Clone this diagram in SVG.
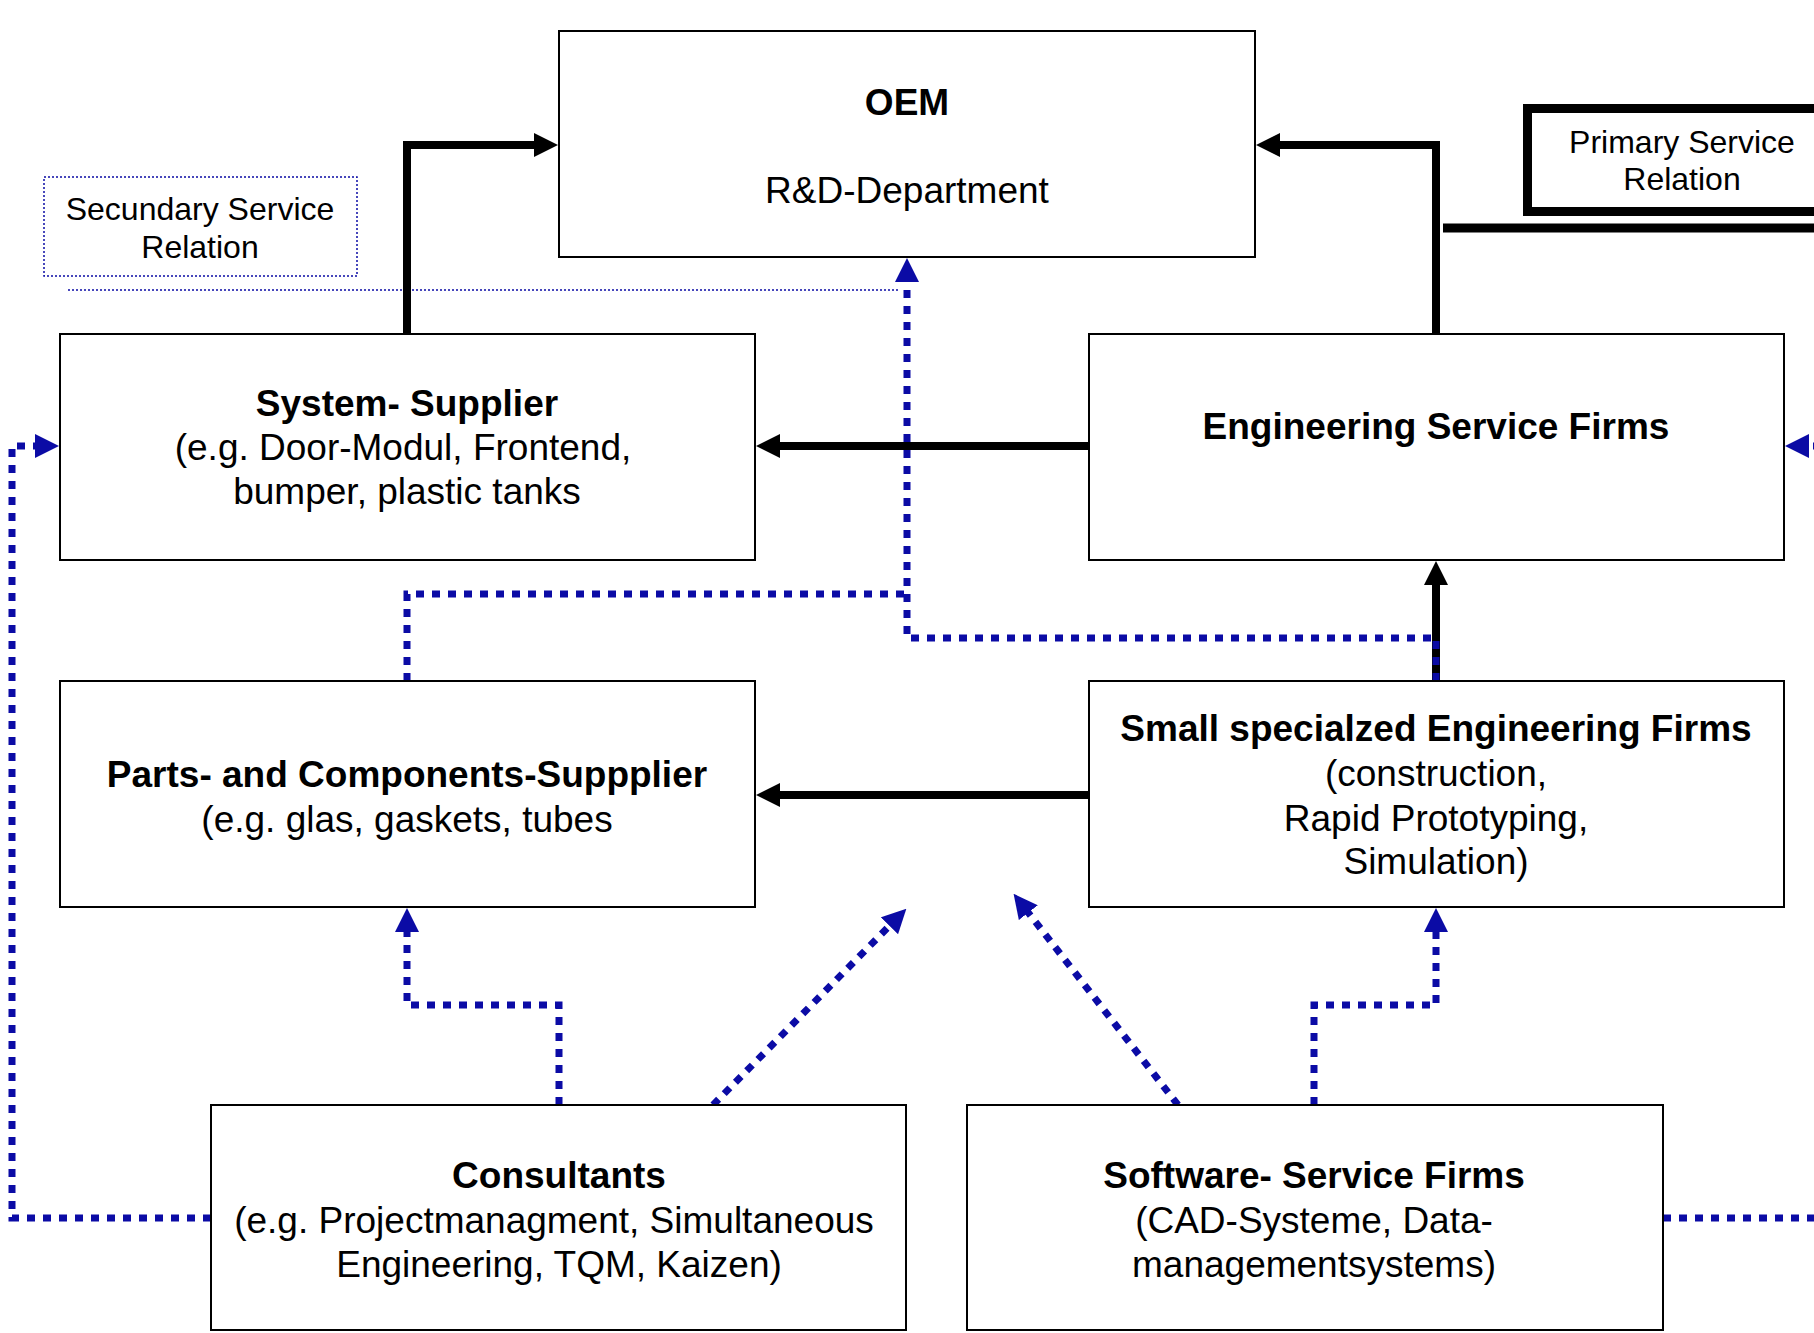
<svg xmlns="http://www.w3.org/2000/svg" width="1814" height="1333" viewBox="0 0 1814 1333">
<style>
.box{fill:#fff;stroke:#000;stroke-width:2}
.t{font-family:"Liberation Sans",Arial,sans-serif;font-size:37px;fill:#000;text-anchor:middle}
.b{font-weight:bold}
.lg{font-family:"Liberation Sans",Arial,sans-serif;font-size:32px;fill:#000;text-anchor:middle}
.k{fill:none;stroke:#000;stroke-width:8}
.d{fill:none;stroke:#0b0ba5;stroke-width:7;stroke-dasharray:8 8}
</style>
<defs>
<marker id="ak" markerUnits="userSpaceOnUse" viewBox="0 0 24 24" refX="1" refY="12" markerWidth="24" markerHeight="24" orient="auto"><path d="M0,0 L24,12 L0,24 z" fill="#000"/></marker>
<marker id="ab" markerUnits="userSpaceOnUse" viewBox="0 0 24 24" refX="1" refY="12" markerWidth="24" markerHeight="24" orient="auto"><path d="M0,0 L24,12 L0,24 z" fill="#0b0ba5"/></marker>
</defs>
<g id="legend-secondary">
<rect x="44" y="177" width="313" height="99" fill="none" stroke="#0b0ba5" stroke-width="1.5" stroke-dasharray="2 2"/>
<text class="lg" x="200" y="220">Secundary Service</text>
<text class="lg" x="200" y="258">Relation</text>
<line x1="68" y1="290" x2="900" y2="290" stroke="#0b0ba5" stroke-width="1.5" stroke-dasharray="2 2"/>
</g>
<g id="legend-primary">
<rect x="1527.5" y="108.5" width="320" height="103" fill="none" stroke="#000" stroke-width="9"/>
<text class="lg" x="1682" y="153">Primary Service</text>
<text class="lg" x="1682" y="190">Relation</text>
<line x1="1443" y1="228" x2="1814" y2="228" stroke="#000" stroke-width="9"/>
</g>
<g id="connectors">
<path class="k" d="M407,334 V145 H535" marker-end="url(#ak)"/>
<path class="k" d="M1436,334 V145 H1279" marker-end="url(#ak)"/>
<path class="k" d="M1089,446 H779" marker-end="url(#ak)"/>
<path class="k" d="M1436,681 V584" marker-end="url(#ak)"/>
<path class="k" d="M1089,795 H779" marker-end="url(#ak)"/>
<path class="d" d="M407,681 V594 H907"/>
<path class="d" d="M1436,681 V638 H907 V281" marker-end="url(#ab)"/>
<path class="d" d="M559,1105 V1005 H407 V931" marker-end="url(#ab)"/>
<path class="d" d="M713,1105 L890.2,925.1" marker-end="url(#ab)"/>
<path class="d" d="M1178,1105 L1027.7,911.9" marker-end="url(#ab)"/>
<path class="d" d="M1314,1105 V1005 H1436 V931" marker-end="url(#ab)"/>
<path class="d" d="M211,1218 H12 V446 H36" marker-end="url(#ab)"/>
<path class="d" d="M1663,1218 H1828 V446 H1808" marker-end="url(#ab)"/>
</g>
<g id="oem">
<rect class="box" x="559" y="31" width="696" height="226"/>
<text class="t b" x="907" y="115">OEM</text>
<text class="t" x="907" y="203">R&amp;D-Department</text>
</g>
<g id="system-supplier">
<rect class="box" x="60" y="334" width="695" height="226"/>
<text class="t b" x="407" y="416">System- Supplier</text>
<text class="t" x="403" y="460">(e.g. Door-Modul, Frontend,</text>
<text class="t" x="407" y="504">bumper, plastic tanks</text>
</g>
<g id="engineering-service-firms">
<rect class="box" x="1089" y="334" width="695" height="226"/>
<text class="t b" x="1436" y="439">Engineering Service Firms</text>
</g>
<g id="parts-supplier">
<rect class="box" x="60" y="681" width="695" height="226"/>
<text class="t b" x="407" y="787">Parts- and Components-Suppplier</text>
<text class="t" x="407" y="832">(e.g. glas, gaskets, tubes</text>
</g>
<g id="small-engineering-firms">
<rect class="box" x="1089" y="681" width="695" height="226"/>
<text class="t b" x="1436" y="741">Small specialzed Engineering Firms</text>
<text class="t" x="1436" y="786">(construction,</text>
<text class="t" x="1436" y="831">Rapid Prototyping,</text>
<text class="t" x="1436" y="874">Simulation)</text>
</g>
<g id="consultants">
<rect class="box" x="211" y="1105" width="695" height="225"/>
<text class="t b" x="559" y="1188">Consultants</text>
<text class="t" x="554" y="1233">(e.g. Projectmanagment, Simultaneous</text>
<text class="t" x="559" y="1277">Engineering, TQM, Kaizen)</text>
</g>
<g id="software-service-firms">
<rect class="box" x="967" y="1105" width="696" height="225"/>
<text class="t b" x="1314" y="1188">Software- Service Firms</text>
<text class="t" x="1314" y="1233">(CAD-Systeme, Data-</text>
<text class="t" x="1314" y="1277">managementsystems)</text>
</g>
</svg>
